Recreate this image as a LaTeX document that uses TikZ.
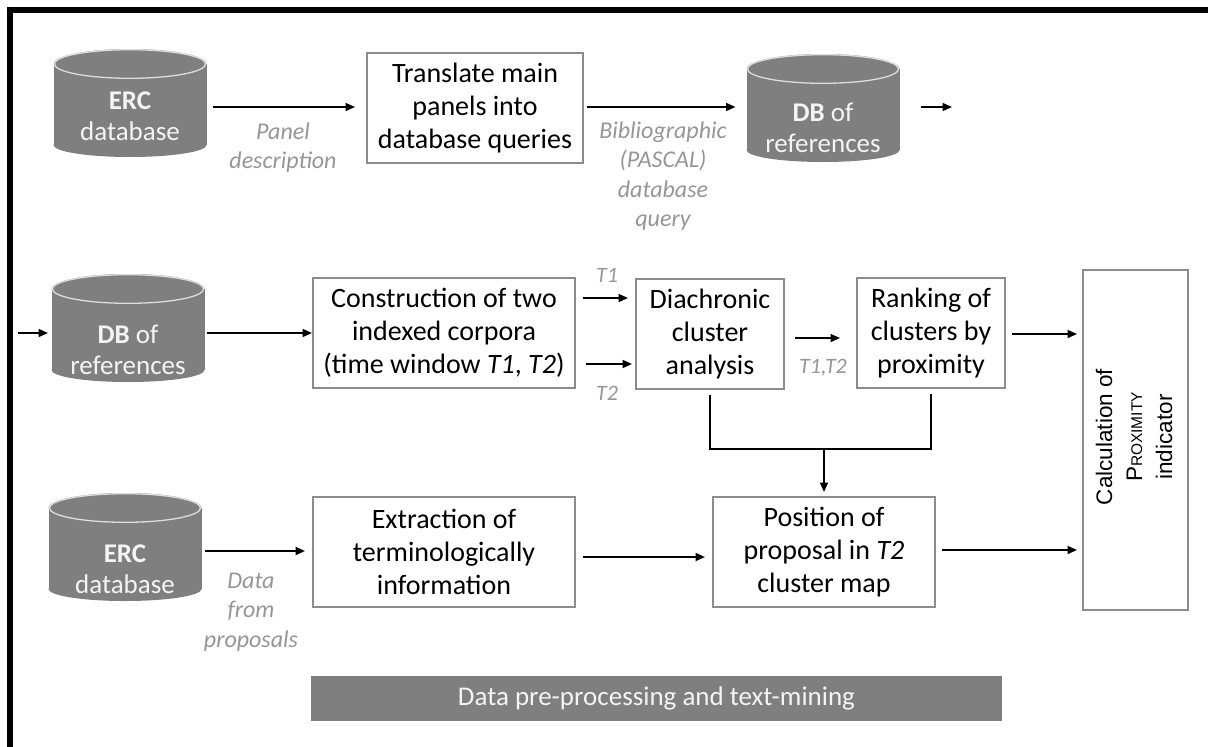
\documentclass[tikz,border=0pt]{standalone}
\usepackage{fontspec}
\setmainfont{Carlito}
\newfontfamily\arialf{Liberation Sans}
\usetikzlibrary{arrows.meta,calc}
\definecolor{cylgray}{RGB}{127,127,127}
\definecolor{boxline}{RGB}{140,140,140}
\definecolor{labgray}{RGB}{150,150,150}
\definecolor{rimc}{RGB}{222,222,222}
\definecolor{cyltxt}{RGB}{244,244,244}
\newcommand\drawcyl[1]{%
  \fill[cylgray] ([yshift=-15pt]#1.north west) rectangle ([yshift=12pt]#1.south east);
  \fill[cylgray] ([yshift=12pt]#1.south) ellipse [x radius=76.5pt, y radius=12pt];
  \fill[cylgray] ([yshift=-15pt]#1.north) ellipse [x radius=76.5pt, y radius=15pt];
  \draw[rimc, line width=1.3pt] ([yshift=-15pt]#1.north) ellipse [x radius=75.6pt, y radius=14.3pt];
}
\begin{document}
\begin{tikzpicture}[x=1pt,y=-1pt,
  every node/.style={inner sep=0pt, outer sep=0pt},
  cyl/.style={minimum width=153pt, minimum height=108pt},
  cyltext/.style={text=cyltxt, align=center, font=\fontsize{27}{31}\selectfont},
  procbox/.style={draw=boxline, line width=2pt, fill=white, align=center,
                  font=\fontsize{28}{33}\selectfont},
  lab/.style={text=labgray, align=center, font=\fontsize{24}{29.3}\selectfont\itshape},
  tlab/.style={text=labgray, font=\fontsize{22}{26}\selectfont\itshape},
  arr/.style={draw=black, line width=1.8pt, -{Triangle[length=9.5pt,width=8pt]}},
  conn/.style={draw=black, line width=1.8pt},
  bar/.style={fill=cylgray, text=cyltxt, font=\fontsize{27}{33}\selectfont}
]
\fill[white] (0,0) rectangle (1208,747);
\useasboundingbox (0,0) rectangle (1208,747);
% frame
\draw[line width=6pt] (10,747) -- (10,10) -- (1208,10);

% ---- row 1
\node[cyl] (c1) at (130,103) {};
\drawcyl{c1}
\node[cyltext] (c1t) at ([yshift=-13pt]c1.center) {\textbf{ERC}\\database};
\node[procbox, minimum width=216pt, minimum height=110pt] (b1) at (475,108)
  {Translate main\\panels into\\database queries};
\node[cyl] (c2) at (823,108) {};
\drawcyl{c2}
\node[cyltext] (c2t) at ([yshift=-20pt]c2.center) {\textbf{DB} of\\references};
\coordinate (e1) at (952,107);

% ---- row 2
\coordinate (s2) at (18,333);
\node[cyl] (c3) at (128,328) {};
\drawcyl{c3}
\node[cyltext] (c3t) at ([yshift=-22pt]c3.center) {\textbf{DB} of\\references};
\node[procbox, minimum width=262pt, minimum height=110pt] (b2) at (444,333)
  {Construction of two\\indexed corpora\\(time window \textit{T1}, \textit{T2})};
\node[procbox, minimum width=148pt, minimum height=110pt] (b3) at (710,334)
  {Diachronic\\cluster\\analysis};
\node[procbox, minimum width=148pt, minimum height=110pt] (b4) at (931,333)
  {Ranking of\\clusters by\\proximity};
\node[procbox, minimum width=105pt, minimum height=340pt] (b7) at (1135.5,440) {};
\node[rotate=90, align=center, font=\arialf\fontsize{22.5}{30}\selectfont] (b7t) at (1134,437)
  {Calculation of\\P{\fontsize{15.5}{30}\selectfont ROXIMITY}\\indicator};

% ---- row 3
\node[cyl] (c4) at (125,547) {};
\drawcyl{c4}
\node[cyltext] (c4t) at ([yshift=-22pt]c4.center) {\textbf{ERC}\\database};
\node[procbox, minimum width=262pt, minimum height=110pt] (b5) at (444,552)
  {Extraction of\\terminologically\\information};
\node[procbox, minimum width=222pt, minimum height=110pt] (b6) at (824,552)
  {Position of\\proposal in \textit{T2}\\cluster map};

\node[bar, minimum width=691pt, minimum height=45pt] (bar) at (656.5,698.5)
  {Data pre-processing and text-mining};

% ---- arrows row 1
\draw[arr, shorten <=6pt, shorten >=12pt] ([yshift=-4pt]c1.east) -- ([yshift=-4pt]c1.east -| b1.west);
\draw[arr, shorten <=4pt, shorten >=11pt] ([yshift=1pt]b1.east) -- ([yshift=1pt]b1.east -| c2.west);
\draw[arr, shorten <=21.5pt] (c2.east |- e1) -- (e1);

% ---- arrows row 2
\draw[arr, shorten >=3.5pt] (s2) -- (s2 -| c3.west);
\draw[arr, shorten <=2pt, shorten >=1pt] ([yshift=-5pt]c3.east) -- ([yshift=-5pt]c3.east -| b2.west);
\draw[arr, shorten <=8pt, shorten >=8pt] ([yshift=35pt]b2.east) -- ([yshift=35pt]b2.east -| b3.west);
\draw[arr, shorten <=11pt, shorten >=4pt] ([yshift=-31pt]b2.east) -- ([yshift=-31pt]b2.east -| b3.west);
\draw[arr, shorten <=11pt, shorten >=17pt] ([yshift=-4pt]b3.east) -- ([yshift=-4pt]b3.east -| b4.west);
\draw[arr, shorten <=7pt, shorten >=6pt] ([yshift=-1pt]b4.east) -- ([yshift=-1pt]b4.east -| b7.west);

% ---- merge
\draw[conn] ([yshift=-6pt]b3.south) -- ++(0,54) -| ([yshift=-6pt]b4.south);
\coordinate (mj) at ($([yshift=-60pt]b3.south)!0.5!([yshift=-60pt]b4.south)$);
\draw[arr, shorten >=5pt] (b6.north |- mj) -- (b6.north);

% ---- arrows row 3
\draw[arr, shorten <=3.5pt, shorten >=8pt] ([yshift=-4pt]c4.east) -- ([yshift=-4pt]c4.east -| b5.west);
\draw[arr, shorten <=8pt, shorten >=8pt] ([yshift=-5pt]b5.east) -- ([yshift=-5pt]b5.east -| b6.west);
\draw[arr, shorten <=7pt, shorten >=6pt] ([yshift=2pt]b6.east) -- ([yshift=2pt]b6.east -| b7.west);

% ---- labels
\node[lab] (l1) at (283,147.5) {Panel\\description};
\node[lab] (l2) at (663,176) {Bibliographic\\(PASCAL)\\database\\query};
\node[tlab] (t1) at (607,275) {T1};
\node[tlab] (t2) at (607,393) {T2};
\node[tlab] (t12) at (823,368) {T1,T2};
\node[lab] (l3) at (251,612) {Data\\from\\proposals};
\end{tikzpicture}
\end{document}
